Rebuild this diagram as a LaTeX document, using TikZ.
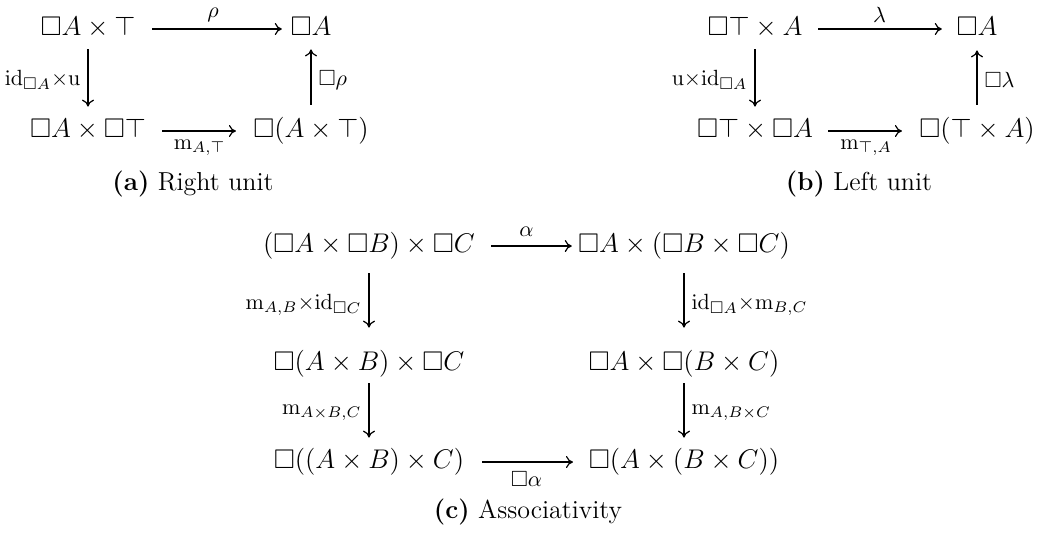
\RequirePackage{fix-cm}
\documentclass[tikz,border=0pt]{standalone}
\usepackage{amssymb}
\usetikzlibrary{arrows.meta}
\tikzset{
  obj/.style={inner sep=0pt, text height=10.125pt, text depth=3.375pt, font=\fontsize{13.5}{16}\selectfont},
  mor/.style={line width=0.6pt, -{Computer Modern Rightarrow[length=3.5pt,width=6pt]}},
  lab/.style={inner sep=0pt, font=\fontsize{11}{13}\selectfont},
  labup/.style={lab, midway, yshift=7pt},
  labdown/.style={lab, midway, yshift=-8.5pt},
  labl/.style={lab, midway, left=3.5pt},
  labr/.style={lab, midway, right=3.5pt},
  captext/.style={inner sep=0pt, font=\fontsize{13}{16}\selectfont},
}
\begin{document}
\begin{tikzpicture}[x=0.5pt,y=-0.5pt]
\useasboundingbox (0,0) rectangle (1040,532);
% (a) Right unit
\node[obj] (a1) at (88,29) {$\Box A\times\top$};
\node[obj] (a2) at (311,29) {$\Box A$};
\node[obj] (a3) at (88,131) {$\Box A\times\Box\top$};
\node[obj] (a4) at (311,131) {$\Box(A\times\top)$};
\draw[mor, shorten <=8.2pt, shorten >=4.2pt] (a1) -- node[labup] {$\rho$} (a2);
\draw[mor, shorten <=3.25pt, shorten >=5.25pt] (a1) -- node[labl] {$\mathrm{id}_{\Box A}{\times}\mathrm{u}$} (a3);
\draw[mor, shorten <=8pt, shorten >=8.5pt] (a3) -- node[labdown] {$\mathrm{m}_{A,\top}$} (a4);
\draw[mor, shorten <=6.25pt, shorten >=3.25pt] (a4) -- node[labr] {$\Box\rho$} (a2);
\node[captext] (capa) at (193,184) {\textbf{(a)} Right unit};
% (b) Left unit
\node[obj] (b1) at (755,29) {$\Box\top\times A$};
\node[obj] (b2) at (977,29) {$\Box A$};
\node[obj] (b3) at (755,131) {$\Box\top\times\Box A$};
\node[obj] (b4) at (977,131) {$\Box(\top\times A)$};
\draw[mor, shorten <=7.7pt, shorten >=7.2pt] (b1) -- node[labup] {$\lambda$} (b2);
\draw[mor, shorten <=3.25pt, shorten >=5.25pt] (b1) -- node[labl] {$\mathrm{u}{\times}\mathrm{id}_{\Box A}$} (b3);
\draw[mor, shorten <=7.5pt, shorten >=8.5pt] (b3) -- node[labdown] {$\mathrm{m}_{\top,A}$} (b4);
\draw[mor, shorten <=6.25pt, shorten >=3.75pt] (b4) -- node[labr] {$\Box\lambda$} (b2);
\node[captext] (capb) at (859,184) {\textbf{(b)} Left unit};
% (c) Associativity
\node[obj] (c1) at (369,246) {$(\Box A\times\Box B)\times\Box C$};
\node[obj] (c2) at (684,246) {$\Box A\times(\Box B\times\Box C)$};
\node[obj] (c3) at (369,364) {$\Box(A\times B)\times\Box C$};
\node[obj] (c4) at (684,364) {$\Box A\times\Box(B\times C)$};
\node[obj] (c5) at (369,462) {$\Box((A\times B)\times C)$};
\node[obj] (c6) at (684,462) {$\Box(A\times(B\times C))$};
\draw[mor, shorten <=8pt, shorten >=3pt] (c1) -- node[labup] {$\alpha$} (c2);
\draw[mor, shorten <=6.75pt, shorten >=11.25pt] (c1) -- node[labl] {$\mathrm{m}_{A,B}{\times}\mathrm{id}_{\Box C}$} (c3);
\draw[mor, shorten <=6.75pt, shorten >=11.25pt] (c2) -- node[labr] {$\mathrm{id}_{\Box A}{\times}\mathrm{m}_{B,C}$} (c4);
\draw[mor, shorten <=2.75pt, shorten >=5.25pt] (c3) -- node[labl] {$\mathrm{m}_{A\times B,C}$} (c5);
\draw[mor, shorten <=2.75pt, shorten >=5.25pt] (c4) -- node[labr] {$\mathrm{m}_{A,B\times C}$} (c6);
\draw[mor, shorten <=8.75pt, shorten >=7.75pt] (c5) -- node[labdown] {$\Box\alpha$} (c6);
\node[captext] (capc) at (528,512) {\textbf{(c)} Associativity};
\end{tikzpicture}
\end{document}
